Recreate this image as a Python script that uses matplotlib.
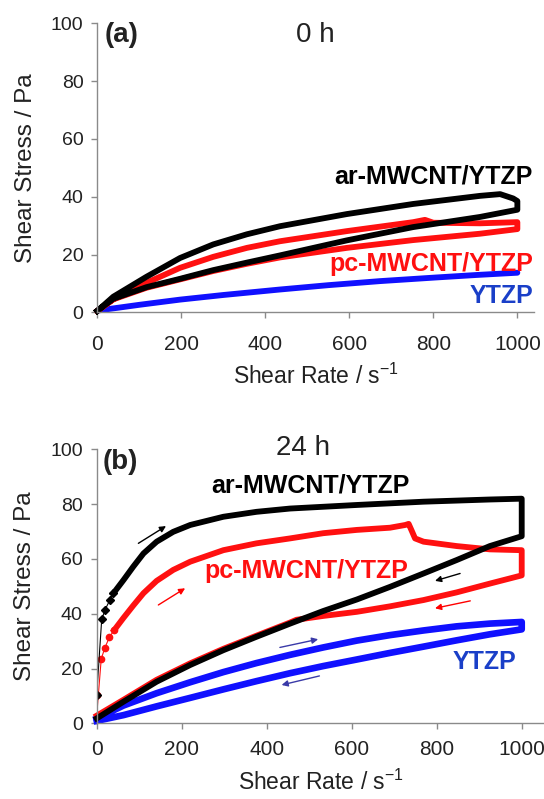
import matplotlib
matplotlib.use("Agg")
from matplotlib import pyplot as plt

plt.rcParams['font.family'] = ['Liberation Sans', 'DejaVu Sans']
plt.rcParams['mathtext.fontset'] = 'custom'
plt.rcParams['mathtext.rm'] = 'Liberation Sans'
plt.rcParams['mathtext.it'] = 'Liberation Sans'

# ---- panel (a): 0 h ----
ar0_up_x = [0, 38, 117, 197, 276, 356, 435, 594, 752, 911, 959, 990, 1000, 1000]
ar0_up_y = [0.5, 5.4, 12.3, 18.8, 23.5, 27.0, 29.8, 34.0, 37.5, 40.3, 40.9, 39.4, 38.5, 35.5]
ar0_dn_x = [1000, 911, 752, 594, 435, 356, 276, 197, 117, 38, 0]
ar0_dn_y = [35.5, 33.0, 29.5, 24.9, 19.7, 17.2, 14.6, 11.6, 8.7, 4.7, 0.5]

pc0_up_x = [0, 38, 117, 197, 276, 356, 435, 594, 752, 780, 800, 911, 1000, 1000]
pc0_up_y = [0.5, 4.5, 10.2, 15.4, 19.2, 22.3, 24.6, 28.1, 31.2, 32.0, 31.0, 30.8, 31.2, 28.8]
pc0_dn_x = [1000, 911, 752, 594, 435, 356, 276, 197, 117, 38, 0]
pc0_dn_y = [28.8, 27.2, 25.0, 22.3, 19.0, 16.8, 14.3, 11.4, 8.5, 4.5, 0.5]

yt0_x = [0, 100, 197, 300, 435, 550, 673, 800, 900, 1000]
yt0_y = [0.6, 2.6, 4.4, 6.0, 7.9, 9.4, 10.8, 12.0, 12.9, 13.7]

# ---- panel (b): 24 h ----
ar24_start_x = [0, 11.7, 19.6, 31, 39]
ar24_start_y = [10.5, 37.9, 41.5, 45.0, 47.4]
ar24_up_x = [39, 63, 86, 110, 141, 180, 220, 298, 376, 455, 612, 769, 925, 1000, 1000]
ar24_up_y = [47.4, 52.3, 57.2, 62.0, 66.3, 69.9, 72.4, 75.4, 77.2, 78.4, 79.7, 80.9, 81.7, 82.0, 68.3]
ar24_dn_x = [1000, 925, 847, 769, 690, 612, 533, 455, 376, 298, 220, 141, 63, 0]
ar24_dn_y = [68.3, 64.7, 59.6, 54.7, 49.8, 45.2, 41.0, 36.4, 31.6, 26.7, 21.3, 15.2, 7.9, 1.8]

pc24_start_x = [0, 0, 10.6, 19, 30, 41]
pc24_start_y = [10.5, 3.0, 23.5, 27.5, 31.5, 34.0]
pc24_up_x = [41, 63, 86, 110, 141, 180, 220, 298, 376, 455, 533, 612, 690, 726, 734,
             742, 749, 769, 847, 925, 1000, 1000]
pc24_up_y = [34.0, 38.5, 43.0, 47.5, 52.0, 56.0, 59.0, 63.2, 65.7, 67.5, 69.4, 70.6, 71.4, 72.4, 72.8,
             70.0, 67.5, 66.3, 64.7, 63.5, 63.2, 54.0]
pc24_dn_x = [1000, 925, 847, 769, 690, 612, 533, 470, 455, 376, 298, 220, 141, 63, 0]
pc24_dn_y = [54.0, 51.0, 47.8, 45.0, 42.7, 40.7, 39.2, 37.8, 36.8, 32.0, 27.2, 21.9, 15.9, 8.6, 2.8]

yt24_up_x = [0, 63, 141, 220, 298, 376, 455, 533, 612, 690, 769, 847, 925, 1000, 1000]
yt24_up_y = [1.8, 6.5, 11.0, 15.0, 18.7, 22.0, 25.0, 27.7, 30.2, 32.2, 33.9, 35.4, 36.4, 37.0, 34.3]
yt24_dn_x = [1000, 925, 847, 769, 690, 612, 533, 455, 376, 298, 220, 141, 63, 0]
yt24_dn_y = [34.3, 32.5, 30.3, 28.0, 25.7, 23.3, 20.9, 18.3, 15.4, 12.4, 9.3, 6.2, 3.0, 0.9]

# direction arrows (tail x, tail y, head x, head y)
arrows_24 = [
    (98, 65.7, 163, 72.0, "black"),
    (145, 43.2, 208, 49.3, "red"),
    (855, 54.7, 796, 52.0, "black"),
    (879, 44.7, 796, 42.0, "red"),
    (431, 27.7, 521, 30.7, "#3a3aa8"),
    (524, 17.3, 435, 14.0, "#3a3aa8"),
]

RED = "#ff1010"
BLUE = "#1010ff"
LBLUE = "#1a3fc8"
GREY = "#8a8a8a"
TXT = "#222222"

fig = plt.figure(figsize=(5.44, 7.99), dpi=100)
ax1 = fig.add_axes([0.1789, 0.6091, 0.803, 0.3617])
ax2 = fig.add_axes([0.1778, 0.0947, 0.8242, 0.3429])


def style(ax, xmax, xpad, xlabelpad):
    ax.set_xlim(0, xmax)
    ax.set_ylim(0, 100)
    ax.set_xticks([0, 200, 400, 600, 800, 1000])
    ax.set_yticks([0, 20, 40, 60, 80, 100])
    for s in ["top", "right"]:
        ax.spines[s].set_visible(False)
    for s in ["left", "bottom"]:
        ax.spines[s].set_color(GREY)
        ax.spines[s].set_linewidth(1.0)
    ax.tick_params(direction="out", length=4, width=1, color=GREY, labelcolor=TXT)
    ax.tick_params(axis="x", labelsize=15, pad=xpad)
    ax.tick_params(axis="y", labelsize=14, pad=6)
    ax.set_xlabel("Shear Rate / s$^{-1}$", fontsize=16.5, color=TXT, labelpad=xlabelpad)
    ax.set_ylabel("Shear Stress / Pa", fontsize=17.5, color=TXT, labelpad=10)


lw = 4.2
# panel (a)
ax1.plot(yt0_x, yt0_y, color=BLUE, lw=lw, solid_capstyle="round", clip_on=False)
ax1.plot(pc0_up_x + pc0_dn_x, pc0_up_y + pc0_dn_y, color=RED, lw=lw,
         solid_joinstyle="round", clip_on=False)
ax1.plot(ar0_up_x + ar0_dn_x, ar0_up_y + ar0_dn_y, color="black", lw=lw,
         solid_joinstyle="round", clip_on=False)
style(ax1, 1040, 12, 7)
ax1.text(18, 96, "(a)", fontsize=20, fontweight="bold", color=TXT, va="center")
ax1.text(520, 96, "0 h", fontsize=20, color=TXT, ha="center", va="center")
ax1.text(1037, 47, "ar-MWCNT/YTZP", fontsize=18, fontweight="bold", color="black",
         ha="right", va="center")
ax1.text(1037, 16.6, "pc-MWCNT/YTZP", fontsize=18, fontweight="bold", color=RED,
         ha="right", va="center")
ax1.text(1037, 5.7, "YTZP", fontsize=18, fontweight="bold", color=LBLUE,
         ha="right", va="center")

# panel (b)
ax2.plot(yt24_up_x + yt24_dn_x, yt24_up_y + yt24_dn_y, color=BLUE, lw=lw + 0.6,
         solid_joinstyle="round", clip_on=False)
ax2.plot(pc24_start_x, pc24_start_y, color=RED, lw=0.8, marker="o", ms=4.5, mec=RED, mfc=RED)
ax2.plot(pc24_up_x + pc24_dn_x, pc24_up_y + pc24_dn_y, color=RED, lw=lw,
         solid_joinstyle="round", clip_on=False)
ax2.plot(ar24_start_x, ar24_start_y, color="black", lw=0.8, marker="D", ms=4,
         mec="black", mfc="black")
ax2.plot(ar24_up_x + ar24_dn_x, ar24_up_y + ar24_dn_y, color="black", lw=lw,
         solid_joinstyle="round", clip_on=False)
for x0, y0, x1, y1, c in arrows_24:
    ax2.annotate("", xy=(x1, y1), xytext=(x0, y0),
                 arrowprops=dict(arrowstyle="-|>", color=c, lw=1.0,
                                 mutation_scale=9, shrinkA=0, shrinkB=0))
style(ax2, 1055, 8, 8)
ax2.text(15, 95.5, "(b)", fontsize=20, fontweight="bold", color=TXT, va="center")
ax2.text(485, 100.5, "24 h", fontsize=20, color=TXT, ha="center", va="center",
         clip_on=False)
ax2.text(503, 86.7, "ar-MWCNT/YTZP", fontsize=18, fontweight="bold", color="black",
         ha="center", va="center")
ax2.text(494, 55.7, "pc-MWCNT/YTZP", fontsize=18, fontweight="bold", color=RED,
         ha="center", va="center")
ax2.text(912, 22.5, "YTZP", fontsize=18, fontweight="bold", color=LBLUE,
         ha="center", va="center")

fig.savefig("out.png", dpi=100)
